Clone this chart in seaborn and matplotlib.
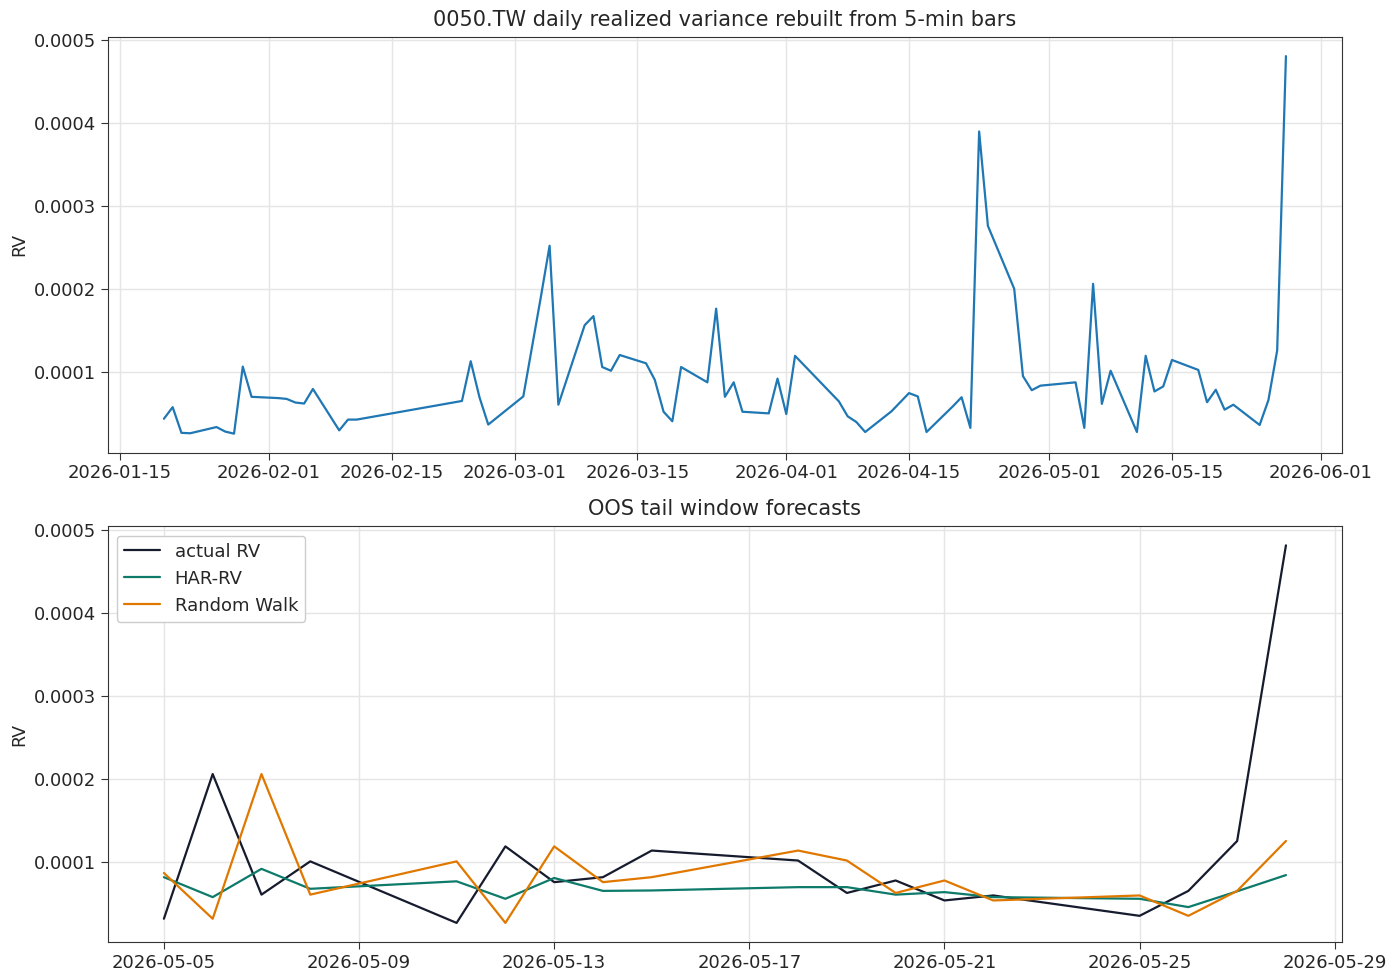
import numpy as np
import pandas as pd
import seaborn as sns
import matplotlib
matplotlib.use('Agg')
import matplotlib.pyplot as plt
import matplotlib.dates as mdates

# daily realized variance (units of 1e-4)
rv_dates = [
  '2026-01-20', '2026-01-21', '2026-01-22', '2026-01-23', '2026-01-26', '2026-01-27',
  '2026-01-28', '2026-01-29', '2026-01-30', '2026-02-02', '2026-02-03', '2026-02-04',
  '2026-02-05', '2026-02-06', '2026-02-09', '2026-02-10', '2026-02-11', '2026-02-23',
  '2026-02-24', '2026-02-25', '2026-02-26', '2026-03-02', '2026-03-03', '2026-03-04',
  '2026-03-05', '2026-03-06', '2026-03-09', '2026-03-10', '2026-03-11', '2026-03-12',
  '2026-03-13', '2026-03-16', '2026-03-17', '2026-03-18', '2026-03-19', '2026-03-20',
  '2026-03-23', '2026-03-24', '2026-03-25', '2026-03-26', '2026-03-27', '2026-03-30',
  '2026-03-31', '2026-04-01', '2026-04-02', '2026-04-07', '2026-04-08', '2026-04-09',
  '2026-04-10', '2026-04-13', '2026-04-14', '2026-04-15', '2026-04-16', '2026-04-17',
  '2026-04-20', '2026-04-21', '2026-04-22', '2026-04-23', '2026-04-24', '2026-04-27',
  '2026-04-28', '2026-04-29', '2026-04-30', '2026-05-04', '2026-05-05', '2026-05-06',
  '2026-05-07', '2026-05-08', '2026-05-11', '2026-05-12', '2026-05-13', '2026-05-14',
  '2026-05-15', '2026-05-18', '2026-05-19', '2026-05-20', '2026-05-21', '2026-05-22',
  '2026-05-25', '2026-05-26', '2026-05-27', '2026-05-28',
]
rv_vals = [
  0.43, 0.57, 0.26, 0.255, 0.33, 0.275,
  0.25, 1.06, 0.695, 0.68, 0.67, 0.626,
  0.614, 0.79, 0.29, 0.42, 0.42, 0.645,
  1.125, 0.69, 0.36, 0.70, 1.30, 1.90,
  2.52, 0.60, 1.56, 1.67, 1.055, 1.01,
  1.20, 1.10, 0.90, 0.515, 0.40, 1.055,
  0.87, 1.76, 0.695, 0.87, 0.515, 0.495,
  0.915, 0.487, 1.19, 0.64, 0.46, 0.39,
  0.27, 0.52, 0.63, 0.74, 0.70, 0.27,
  0.58, 0.69, 0.32, 3.90, 2.76, 2.00,
  0.945, 0.775, 0.83, 0.87, 0.32, 2.06,
  0.61, 1.01, 0.27, 1.19, 0.76, 0.82,
  1.14, 1.02, 0.63, 0.78, 0.54, 0.60,
  0.355, 0.655, 1.255, 4.81,
]

# out-of-sample tail window (units of 1e-4)
oos_dates = [
  '2026-05-05', '2026-05-06', '2026-05-07', '2026-05-08', '2026-05-11', '2026-05-12',
  '2026-05-13', '2026-05-14', '2026-05-15', '2026-05-18', '2026-05-19', '2026-05-20',
  '2026-05-21', '2026-05-22', '2026-05-25', '2026-05-26', '2026-05-27', '2026-05-28',
]
actual_rv = [0.32, 2.06, 0.61, 1.01, 0.27, 1.19, 0.76, 0.82, 1.14, 1.02, 0.63, 0.78,
             0.54, 0.60, 0.355, 0.655, 1.255, 4.81]
har_rv = [0.82, 0.58, 0.92, 0.68, 0.77, 0.56, 0.81, 0.655, 0.66, 0.70, 0.70, 0.61,
          0.64, 0.58, 0.56, 0.46, 0.65, 0.845]
random_walk = [0.87, 0.32, 2.06, 0.61, 1.01, 0.27, 1.19, 0.76, 0.82, 1.14, 1.02, 0.63,
               0.78, 0.54, 0.60, 0.355, 0.655, 1.255]

sns.set_style('ticks')
plt.rcParams['font.family'] = ['DejaVu Sans']
plt.rcParams['axes.unicode_minus'] = False

df_rv = pd.DataFrame({'date': pd.to_datetime(rv_dates), 'RV': np.array(rv_vals) * 1e-4})

df_oos = pd.DataFrame({
  'date': pd.to_datetime(oos_dates),
  'actual RV': np.array(actual_rv) * 1e-4,
  'HAR-RV': np.array(har_rv) * 1e-4,
  'Random Walk': np.array(random_walk) * 1e-4,
})
df_long = df_oos.melt(id_vars='date', var_name='series', value_name='RV')

fig, (ax1, ax2) = plt.subplots(2, 1, figsize=(14, 9.8), dpi=100)
fig.subplots_adjust(left=0.077, right=0.9586, top=0.962, bottom=0.039, hspace=0.178)

sns.lineplot(data=df_rv, x='date', y='RV', ax=ax1, color='#1f77b4', linewidth=1.6)
ax1.set_title('0050.TW daily realized variance rebuilt from 5-min bars', fontsize=15, pad=8)
ax1.xaxis.set_major_locator(mdates.DayLocator(bymonthday=[1, 15]))
ax1.xaxis.set_major_formatter(mdates.DateFormatter('%Y-%m-%d'))

palette = {'actual RV': '#161b2e', 'HAR-RV': '#0d7a6a', 'Random Walk': '#e07800'}
sns.lineplot(data=df_long, x='date', y='RV', hue='series', palette=palette, ax=ax2, linewidth=1.6)
ax2.set_title('OOS tail window forecasts', fontsize=15, pad=8)
ax2.xaxis.set_major_locator(mdates.DayLocator(bymonthday=range(5, 32, 4)))
ax2.xaxis.set_major_formatter(mdates.DateFormatter('%Y-%m-%d'))
ax2.legend(loc='upper left', title=None, fontsize=13, framealpha=1, edgecolor='#cccccc')

for ax in (ax1, ax2):
  ax.set_xlabel('')
  ax.set_ylabel('RV', fontsize=12.5)
  ax.grid(True, color='#e5e5e5', linewidth=1)
  ax.set_axisbelow(True)
  ax.tick_params(labelsize=13, length=5, color='#333333')
  for sp in ax.spines.values():
    sp.set_color('#333333')
  ax.set_yticks([0.0001, 0.0002, 0.0003, 0.0004, 0.0005])
  ax.set_yticklabels(['0.0001', '0.0002', '0.0003', '0.0004', '0.0005'])

plt.savefig('out.png', dpi=100)
